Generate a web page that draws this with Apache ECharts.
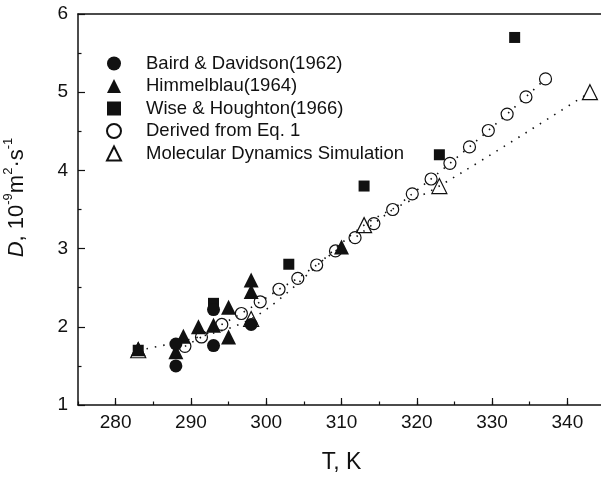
<!DOCTYPE html>
<html>
<head>
<meta charset="utf-8">
<script src="https://cdn.jsdelivr.net/npm/echarts@6/dist/echarts.min.js"></script>
<style>
  html, body { margin: 0; padding: 0; background: #fff; }
  #main { width: 601px; height: 478px; }
</style>
</head>
<body>
<div id="main"></div>
<script>
// data (T in K, D in 10^-9 m2/s)
var bairdT = [288, 288, 293, 293, 298];
var bairdD = [1.50, 1.78, 1.76, 2.22, 2.03];

var himmelT = [283, 288, 289, 291, 293, 295, 295, 298, 298, 310];
var himmelD = [1.72, 1.68, 1.88, 2.00, 2.02, 1.87, 2.25, 2.45, 2.60, 3.02];

var wiseT = [283, 293, 303, 313, 323, 333];
var wiseD = [1.70, 2.30, 2.80, 3.80, 4.20, 5.70];

var derivedT = [289.2, 291.4, 294.1, 296.7, 299.2, 301.7, 304.2, 306.7, 309.2, 311.8,
                314.3, 316.8, 319.4, 321.9, 324.4, 327.0, 329.5, 332.0, 334.5, 337.1];
var derivedD = [1.75, 1.87, 2.03, 2.17, 2.32, 2.48, 2.62, 2.79, 2.97, 3.14,
                3.32, 3.50, 3.70, 3.89, 4.09, 4.30, 4.51, 4.72, 4.94, 5.17];

var mdT = [283, 298, 313, 323, 343];
var mdD = [1.70, 2.10, 3.30, 3.80, 5.00];

var seriesNames = ['Baird & Davidson(1962)', 'Himmelblau(1964)', 'Wise & Houghton(1966)',
                   'Derived from Eq. 1', 'Molecular Dynamics Simulation'];
var xMajor = [280, 290, 300, 310, 320, 330, 340];

function pairs(xs, ys) {
    return xs.map(function (x, i) { return [x, ys[i]]; });
}

var ink = '#111';
var font = 'Liberation Sans, Arial, sans-serif';

var myChart = echarts.init(document.getElementById('main'));

option = {
    backgroundColor: '#fff',
    animation: false,
    textStyle: { fontFamily: font },
    grid: { left: 78, top: 14, right: -4, bottom: 73, outerBoundsMode: 'none', containLabel: false },
    legend: {
        orient: 'vertical',
        left: 101,
        top: 49,
        itemWidth: 14,
        itemHeight: 14,
        itemGap: 3.5,
        textStyle: { fontSize: 18.5, color: ink, fontFamily: font, padding: [0, 0, 0, 20] },
        data: [
            { name: seriesNames[0], icon: 'circle' },
            { name: seriesNames[1], icon: 'triangle' },
            { name: seriesNames[2], icon: 'rect' },
            { name: seriesNames[3], icon: 'circle' },
            { name: seriesNames[4], icon: 'triangle' }
        ]
    },
    xAxis: [
        {
            type: 'value',
            min: 275,
            max: 345,
            interval: 5,
            name: 'T, K',
            nameLocation: 'middle',
            nameGap: 46,
            nameTextStyle: { fontSize: 23, color: ink },
            axisLine: { lineStyle: { color: ink, width: 1.5 } },
            axisTick: { inside: true, length: 7, customValues: xMajor, lineStyle: { color: ink, width: 1.2 } },
            axisLabel: { fontSize: 19, color: ink, margin: 8, customValues: xMajor },
            splitLine: { show: false }
        },
        {
            // minor ticks
            type: 'value',
            min: 275,
            max: 345,
            interval: 5,
            position: 'bottom',
            axisLine: { show: false },
            axisTick: { inside: true, length: 3.5, lineStyle: { color: ink, width: 1.2 } },
            axisLabel: { show: false },
            splitLine: { show: false }
        },
        {
            // top frame line
            type: 'value',
            min: 275,
            max: 345,
            position: 'top',
            axisLine: { lineStyle: { color: ink, width: 1.5 } },
            axisTick: { show: false },
            axisLabel: { show: false },
            splitLine: { show: false }
        }
    ],
    yAxis: {
        type: 'value',
        min: 1,
        max: 6,
        interval: 1,
        name: '{i|D}, 10{s|-9}m{s|2}·s{s|-1}',
        nameLocation: 'middle',
        nameGap: 46,
        nameTextStyle: {
            fontSize: 22,
            color: ink,
            lineHeight: 30,
            padding: [0, 0, 0, 24],
            rich: {
                i: { fontStyle: 'italic', fontSize: 22, color: ink, lineHeight: 30 },
                s: { fontSize: 13, color: ink, verticalAlign: 'top', lineHeight: 30 }
            }
        },
        axisLine: { show: true, lineStyle: { color: ink, width: 1.5 } },
        axisTick: { inside: true, length: 7, lineStyle: { color: ink, width: 1.2 } },
        minorTick: { show: true, splitNumber: 2, length: 3.5, lineStyle: { color: ink, width: 1.2 } },
        axisLabel: { fontSize: 19, color: ink, margin: 10 },
        splitLine: { show: false }
    },
    series: [
        {
            name: seriesNames[4],
            type: 'line',
            smooth: 0.3,
            symbol: 'triangle',
            symbolSize: 15,
            itemStyle: { color: 'rgba(0,0,0,0)', borderColor: ink, borderWidth: 1.2 },
            lineStyle: { color: ink, width: 1.6, type: [1.5, 7] },
            z: 2,
            data: pairs(mdT, mdD)
        },
        {
            name: seriesNames[3],
            type: 'line',
            symbol: 'circle',
            symbolSize: 12,
            itemStyle: { color: 'rgba(0,0,0,0)', borderColor: ink, borderWidth: 1.2 },
            lineStyle: { color: ink, width: 1.6, type: [1.5, 7] },
            z: 3,
            data: pairs(derivedT, derivedD)
        },
        {
            name: seriesNames[1],
            type: 'scatter',
            symbol: 'triangle',
            symbolSize: 15,
            itemStyle: { color: ink, opacity: 1 },
            z: 4,
            data: pairs(himmelT, himmelD)
        },
        {
            name: seriesNames[2],
            type: 'scatter',
            symbol: 'rect',
            symbolSize: 11,
            itemStyle: { color: ink, opacity: 1 },
            z: 5,
            data: pairs(wiseT, wiseD)
        },
        {
            name: seriesNames[0],
            type: 'scatter',
            symbol: 'circle',
            symbolSize: 13,
            itemStyle: { color: ink, opacity: 1 },
            z: 6,
            data: pairs(bairdT, bairdD)
        }
    ]
};

myChart.setOption(option);
window.addEventListener('resize', function () {
    myChart.resize();
});
</script>
</body>
</html>
